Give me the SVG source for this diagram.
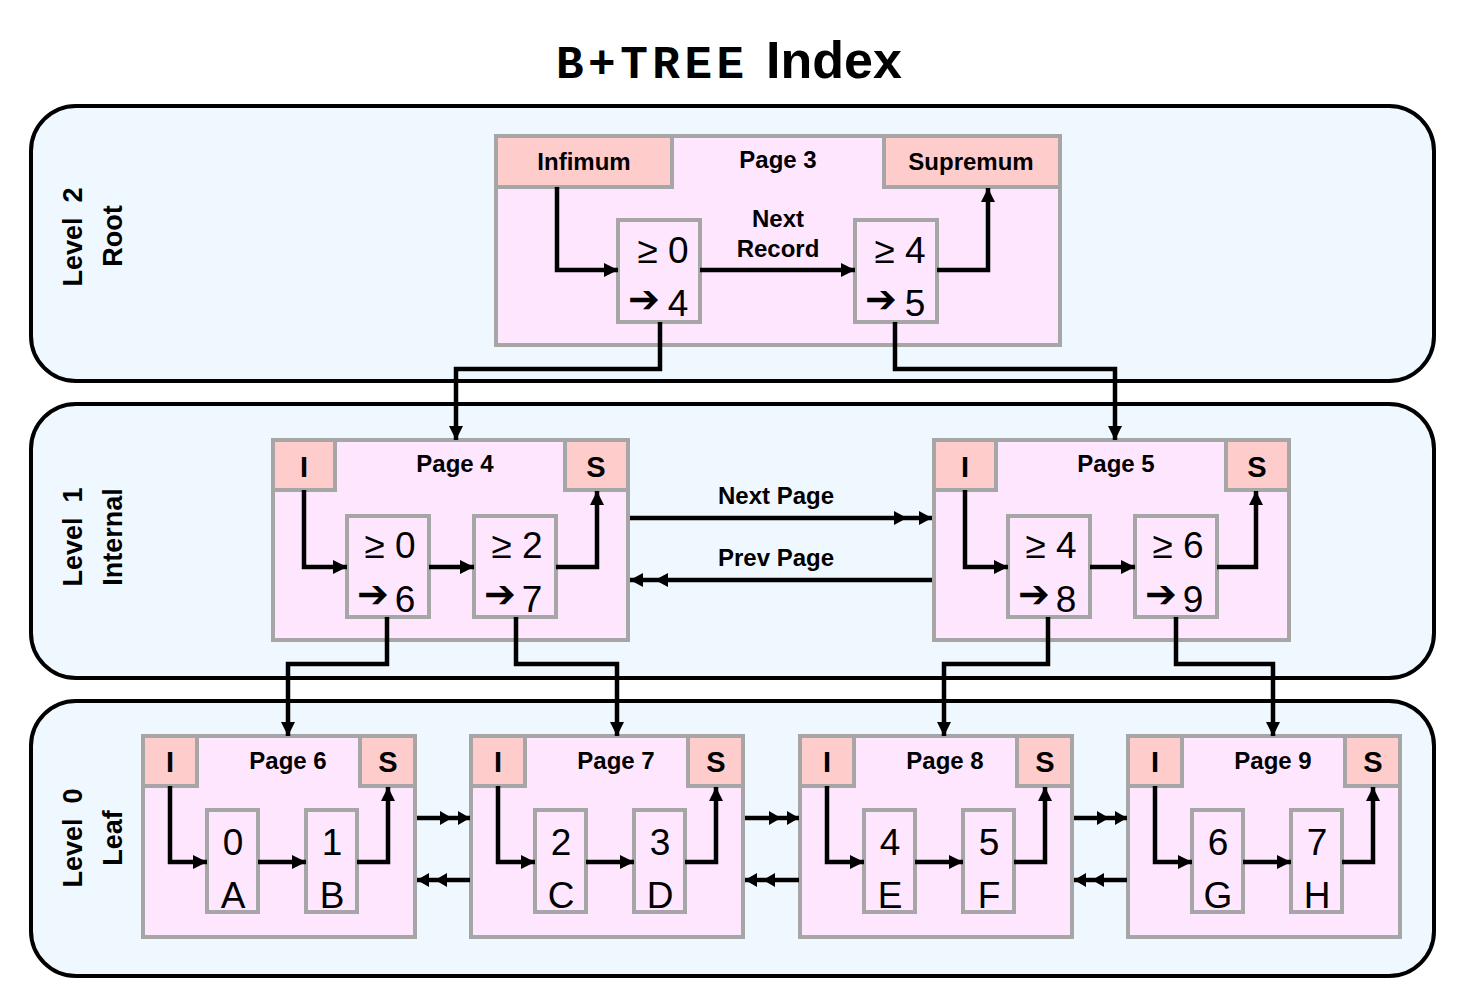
<svg xmlns="http://www.w3.org/2000/svg" width="1460" height="998" viewBox="0 0 1460 998">
<defs>
<style>
.band{fill:#F0F8FF;stroke:#000;stroke-width:4}
.page{fill:#FFE6FF;stroke:#A6A6A6;stroke-width:4}
.hdr{fill:#FFCCCC;stroke:#A6A6A6;stroke-width:4}
.rec{fill:#FFE6FF;stroke:#A6A6A6;stroke-width:4}
.b{font-family:"Liberation Sans",Arial,sans-serif;font-weight:bold;fill:#000}
.lbl{font-size:24px;text-anchor:middle}
.lvl{font-size:27px;text-anchor:middle}
.is{font-size:29px;text-anchor:middle}
.r{font-family:"Liberation Sans",Arial,sans-serif;font-size:37px;fill:#000;text-anchor:middle}
.sym{font-family:"DejaVu Sans",sans-serif;font-size:38px;fill:#000;text-anchor:middle}
.mono{font-family:"Liberation Mono","Courier New",monospace;font-weight:bold;font-size:46px;letter-spacing:4.5px;fill:#000}
.ttl{font-family:"Liberation Sans",Arial,sans-serif;font-weight:bold;font-size:52px;fill:#000}
.c{fill:none;stroke:#000;stroke-width:4.5;stroke-linejoin:miter}
.a{marker-end:url(#ah)}
.d1{marker-end:url(#dh1)}
.d0{marker-end:url(#dh0)}
</style>
<marker id="ah" markerUnits="userSpaceOnUse" markerWidth="14" markerHeight="14" refX="14" refY="7" orient="auto" overflow="visible">
<path d="M0,0 L14,7 L0,14 z" fill="#000"/>
</marker>
<marker id="dh1" markerUnits="userSpaceOnUse" markerWidth="38" markerHeight="14" refX="38" refY="7" orient="auto" overflow="visible">
<path d="M0,0 L13,7 L0,14 z M25,0 L38,7 L25,14 z" fill="#000"/>
</marker>
<marker id="dh0" markerUnits="userSpaceOnUse" markerWidth="30" markerHeight="14" refX="30" refY="7" orient="auto" overflow="visible">
<path d="M0,0 L12,7 L0,14 z M18,0 L30,7 L18,14 z" fill="#000"/>
</marker>
</defs>
<rect width="1460" height="998" fill="#FFFFFF"/>

<g id="title">
<text class="mono" x="556" y="78">B+TREE</text>
<text class="ttl" x="766" y="78">Index</text>
</g>

<g id="level2">
<rect class="band" x="31" y="106" width="1403" height="275" rx="45" ry="45"/>
<text class="b lvl" transform="translate(82,237) rotate(-90)" xml:space="preserve">Level  2</text>
<text class="b lvl" transform="translate(122,236) rotate(-90)">Root</text>
</g>
<g id="level1">
<rect class="band" x="31" y="404" width="1403" height="274" rx="45" ry="45"/>
<text class="b lvl" transform="translate(82,537) rotate(-90)" xml:space="preserve">Level  1</text>
<text class="b lvl" transform="translate(122,537) rotate(-90)">Internal</text>
</g>
<g id="level0">
<rect class="band" x="31" y="701" width="1403" height="275" rx="45" ry="45"/>
<text class="b lvl" transform="translate(82,838) rotate(-90)" xml:space="preserve">Level  0</text>
<text class="b lvl" transform="translate(122,838) rotate(-90)">Leaf</text>
</g>

<g id="page3">
<rect class="page" x="496" y="136" width="564" height="209"/>
<rect class="hdr" x="496" y="136" width="176" height="51"/>
<rect class="hdr" x="884" y="136" width="176" height="51"/>
<text class="b lbl" x="584" y="170">Infimum</text>
<text class="b lbl" x="778" y="168">Page 3</text>
<text class="b lbl" x="971" y="170">Supremum</text>
<text class="b lbl" x="778" y="227">Next</text>
<text class="b lbl" x="778" y="257">Record</text>
<g id="rec3a">
<rect class="rec" x="618" y="220" width="82" height="102"/>
<text class="r" x="663" y="263">≥ 0</text>
<text class="sym" x="644" y="312">➔</text>
<text class="r" x="678" y="316">4</text>
</g>
<g id="rec3b">
<rect class="rec" x="855" y="220" width="82" height="102"/>
<text class="r" x="900" y="263">≥ 4</text>
<text class="sym" x="881" y="312">➔</text>
<text class="r" x="915" y="316">5</text>
</g>
</g>

<g id="page4">
<rect class="page" x="273" y="440" width="355" height="200"/>
<rect class="hdr" x="273" y="440" width="62" height="50"/>
<rect class="hdr" x="565" y="440" width="63" height="50"/>
<text class="b is" x="304" y="477">I</text>
<text class="b is" x="596" y="477">S</text>
<text class="b lbl" x="455" y="472">Page 4</text>
<g id="rec4a">
<rect class="rec" x="347" y="516" width="82" height="101"/>
<text class="r" x="390" y="558">≥ 0</text>
<text class="sym" x="373" y="607">➔</text>
<text class="r" x="405" y="612">6</text>
</g>
<g id="rec4b">
<rect class="rec" x="474" y="516" width="82" height="101"/>
<text class="r" x="517" y="558">≥ 2</text>
<text class="sym" x="500" y="607">➔</text>
<text class="r" x="532" y="612">7</text>
</g>
</g>

<g id="page5">
<rect class="page" x="934" y="440" width="355" height="200"/>
<rect class="hdr" x="934" y="440" width="62" height="50"/>
<rect class="hdr" x="1226" y="440" width="63" height="50"/>
<text class="b is" x="965" y="477">I</text>
<text class="b is" x="1257" y="477">S</text>
<text class="b lbl" x="1116" y="472">Page 5</text>
<g id="rec5a">
<rect class="rec" x="1008" y="516" width="82" height="101"/>
<text class="r" x="1051" y="558">≥ 4</text>
<text class="sym" x="1034" y="607">➔</text>
<text class="r" x="1066" y="612">8</text>
</g>
<g id="rec5b">
<rect class="rec" x="1135" y="516" width="82" height="101"/>
<text class="r" x="1178" y="558">≥ 6</text>
<text class="sym" x="1161" y="607">➔</text>
<text class="r" x="1193" y="612">9</text>
</g>
</g>

<g id="page6">
<rect class="page" x="143" y="736" width="272" height="201"/>
<rect class="hdr" x="143" y="736" width="54" height="50"/>
<rect class="hdr" x="360" y="736" width="55" height="50"/>
<text class="b is" x="170" y="772">I</text>
<text class="b is" x="388" y="772">S</text>
<text class="b lbl" x="288" y="769">Page 6</text>
<rect class="rec" x="207" y="810" width="51" height="102"/>
<text class="r" x="233" y="855">0</text>
<text class="r" x="233" y="908">A</text>
<rect class="rec" x="306" y="810" width="51" height="102"/>
<text class="r" x="332" y="855">1</text>
<text class="r" x="332" y="908">B</text>
</g>

<g id="page7">
<rect class="page" x="471" y="736" width="272" height="201"/>
<rect class="hdr" x="471" y="736" width="54" height="50"/>
<rect class="hdr" x="688" y="736" width="55" height="50"/>
<text class="b is" x="498" y="772">I</text>
<text class="b is" x="716" y="772">S</text>
<text class="b lbl" x="616" y="769">Page 7</text>
<rect class="rec" x="535" y="810" width="51" height="102"/>
<text class="r" x="561" y="855">2</text>
<text class="r" x="561" y="908">C</text>
<rect class="rec" x="634" y="810" width="51" height="102"/>
<text class="r" x="660" y="855">3</text>
<text class="r" x="660" y="908">D</text>
</g>

<g id="page8">
<rect class="page" x="800" y="736" width="272" height="201"/>
<rect class="hdr" x="800" y="736" width="54" height="50"/>
<rect class="hdr" x="1017" y="736" width="55" height="50"/>
<text class="b is" x="827" y="772">I</text>
<text class="b is" x="1045" y="772">S</text>
<text class="b lbl" x="945" y="769">Page 8</text>
<rect class="rec" x="864" y="810" width="51" height="102"/>
<text class="r" x="890" y="855">4</text>
<text class="r" x="890" y="908">E</text>
<rect class="rec" x="963" y="810" width="51" height="102"/>
<text class="r" x="989" y="855">5</text>
<text class="r" x="989" y="908">F</text>
</g>

<g id="page9">
<rect class="page" x="1128" y="736" width="272" height="201"/>
<rect class="hdr" x="1128" y="736" width="54" height="50"/>
<rect class="hdr" x="1345" y="736" width="55" height="50"/>
<text class="b is" x="1155" y="772">I</text>
<text class="b is" x="1373" y="772">S</text>
<text class="b lbl" x="1273" y="769">Page 9</text>
<rect class="rec" x="1192" y="810" width="51" height="102"/>
<text class="r" x="1218" y="855">6</text>
<text class="r" x="1218" y="908">G</text>
<rect class="rec" x="1291" y="810" width="51" height="102"/>
<text class="r" x="1317" y="855">7</text>
<text class="r" x="1317" y="908">H</text>
</g>

<g id="connectors">
<path class="c a" d="M557,187 V270 H618"/>
<path class="c a" d="M700,270 H855"/>
<path class="c a" d="M937,270 H988 V188"/>
<path class="c a" d="M660,322 V369 H456 V440"/>
<path class="c a" d="M895,322 V369 H1115 V440"/>
<path class="c a" d="M304,490 V567 H347"/>
<path class="c a" d="M429,567 H474"/>
<path class="c a" d="M556,567 H597 V491"/>
<path class="c a" d="M965,490 V567 H1008"/>
<path class="c a" d="M1090,567 H1135"/>
<path class="c a" d="M1217,567 H1256 V491"/>
<path class="c d1" d="M630,518 H932"/>
<path class="c d1" d="M932,580 H630"/>
<text class="b lbl" x="776" y="504">Next Page</text>
<text class="b lbl" x="776" y="566">Prev Page</text>
<path class="c a" d="M387,617 V664 H288 V736"/>
<path class="c a" d="M516,617 V664 H617 V736"/>
<path class="c a" d="M1048,617 V664 H944 V736"/>
<path class="c a" d="M1176,617 V664 H1273 V736"/>
<path class="c a" d="M170,786 V862 H207"/>
<path class="c a" d="M258,862 H306"/>
<path class="c a" d="M357,862 H388 V787"/>
<path class="c a" d="M498,786 V862 H535"/>
<path class="c a" d="M586,862 H634"/>
<path class="c a" d="M685,862 H716 V787"/>
<path class="c a" d="M827,786 V862 H864"/>
<path class="c a" d="M915,862 H963"/>
<path class="c a" d="M1014,862 H1045 V787"/>
<path class="c a" d="M1155,786 V862 H1192"/>
<path class="c a" d="M1243,862 H1291"/>
<path class="c a" d="M1342,862 H1373 V787"/>
<path class="c d0" d="M417,818 H470"/>
<path class="c d0" d="M470,880 H417"/>
<path class="c d0" d="M745,818 H799"/>
<path class="c d0" d="M799,880 H745"/>
<path class="c d0" d="M1074,818 H1127"/>
<path class="c d0" d="M1127,880 H1074"/>
</g>
</svg>
